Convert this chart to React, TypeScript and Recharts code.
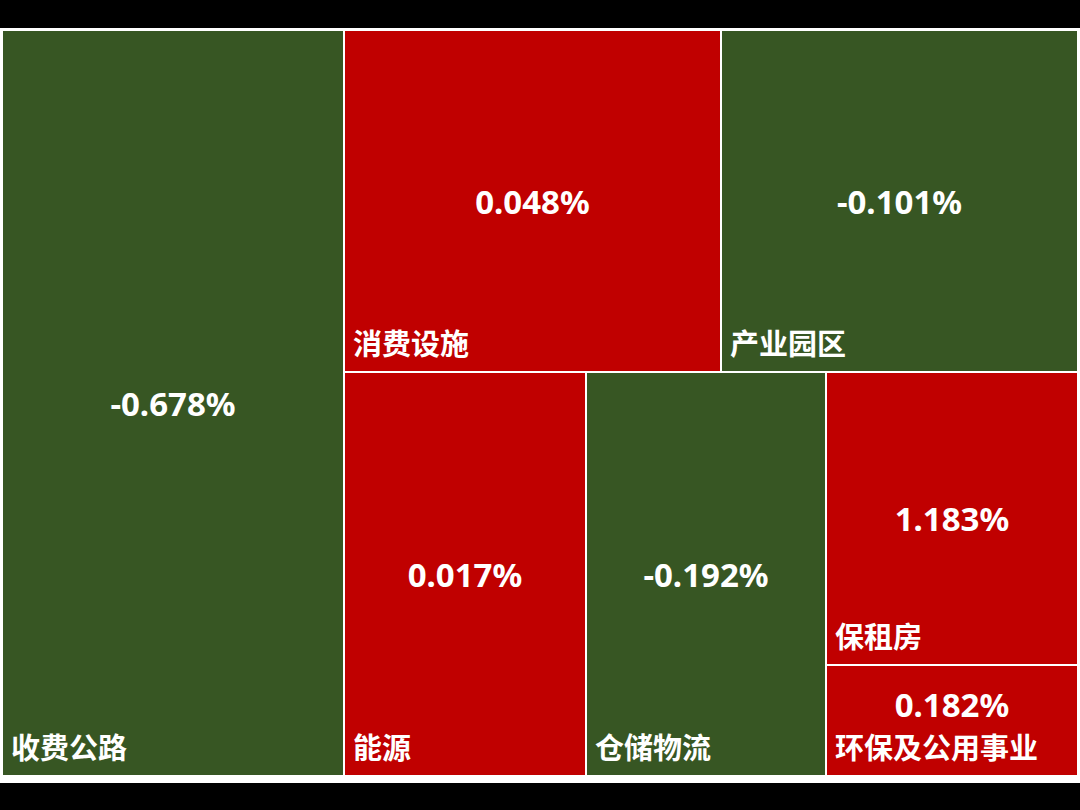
import React from "react";
import { Treemap } from "recharts";

// REITs 板块涨跌幅
const sectors = ["收费公路", "消费设施", "产业园区", "能源", "仓储物流", "保租房", "环保及公用事业"];
const sizes = [255, 129, 122, 98, 97, 74, 28];
const changes = [-0.678, 0.048, -0.101, 0.017, -0.192, 1.183, 0.182];

const UP = "#C00000";
const DOWN = "#375623";

const leaf = (i: number) => ({ name: sectors[i], size: sizes[i], change: changes[i] });

// grouping so the squarified layout matches the original tiles
const treeData = [
  leaf(0),
  {
    name: "rest",
    children: [
      { name: "row1", children: [leaf(1), leaf(2)] },
      { name: "row2", children: [leaf(3), leaf(4), { name: "small", children: [leaf(5), leaf(6)] }] },
    ],
  },
];

const CellContent = (props: any) => {
  const { x, y, width, height, name, change } = props;
  if (change === undefined || change === null) return <g />;
  const rx = x + 1;
  const ry = y + 1;
  const rw = width - 2;
  const rh = height - 2;
  const valueY = rh < 150 ? ry + rh * 0.35 : ry + rh / 2;
  return (
    <g>
      <rect x={rx} y={ry} width={rw} height={rh} fill={change >= 0 ? UP : DOWN} stroke="none" />
      <text
        x={rx + rw / 2}
        y={valueY}
        textAnchor="middle"
        dominantBaseline="central"
        fill="#fff"
        fontFamily="'Noto Sans', sans-serif"
        fontWeight={700}
        fontSize={33}
      >
        {change.toFixed(3) + "%"}
      </text>
      <text
        x={rx + 8}
        y={ry + rh - 16}
        fill="#fff"
        fontFamily="'Noto Sans CJK SC', sans-serif"
        fontWeight={700}
        fontSize={29}
      >
        {name}
      </text>
    </g>
  );
};

export default function App() {
  return (
    <div style={{ position: "fixed", left: 0, top: 0, width: 1080, height: 810, background: "#000" }}>
      <div style={{ position: "absolute", left: 0, top: 28, width: 1080, height: 755, background: "#fff" }}>
        <div style={{ position: "absolute", left: 2, top: 2 }}>
          <Treemap
            width={1076}
            height={746}
            data={treeData}
            dataKey="size"
            nameKey="name"
            aspectRatio={1}
            isAnimationActive={false}
            content={<CellContent />}
          />
        </div>
      </div>
    </div>
  );
}
